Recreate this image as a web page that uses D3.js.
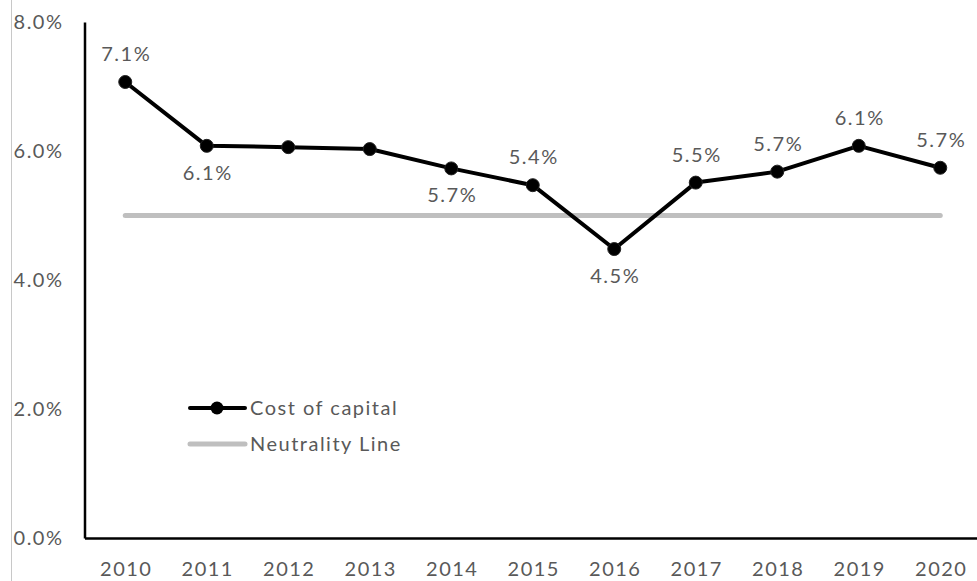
<!DOCTYPE html>
<html><head><meta charset="utf-8">
<script src="https://cdn.jsdelivr.net/npm/d3@7/dist/d3.min.js"></script>
<style>
html,body{margin:0;padding:0;background:#fff;}
svg{display:block;}
text{font-family:Lato,"Open Sans",sans-serif;}
</style></head>
<body>
<script>
const years = ["2010","2011","2012","2013","2014","2015","2016","2017","2018","2019","2020"];
const costOfCapital = [7.07, 6.08, 6.06, 6.03, 5.73, 5.47, 4.48, 5.51, 5.68, 6.08, 5.74];
const neutrality = [5.0, 5.0, 5.0, 5.0, 5.0, 5.0, 5.0, 5.0, 5.0, 5.0, 5.0];
const labelText = ["7.1%","6.1%","","","5.7%","5.4%","4.5%","5.5%","5.7%","6.1%","5.7%"];
const labelPos = ["above","below","none","none","below","above","below","above","above","above","above"];
const yTicks = [0, 2, 4, 6, 8];
const seriesNames = ["Cost of capital", "Neutrality Line"];

const W = 977, H = 581;
const FS = "20px", LS = "1.5px", TXT = "#595959";
const svg = d3.select("body").append("svg").attr("width", W).attr("height", H);

const x = d3.scaleBand().domain(years).range([84.5, 981]);
const y = d3.scaleLinear().domain([0, 8]).range([538, 22]);
const cx = d => x(d) + x.bandwidth() / 2;

// thin border line at left
svg.append("line").attr("x1", 11.5).attr("x2", 11.5).attr("y1", 0).attr("y2", H)
  .attr("stroke", "#c8c8c8").attr("stroke-width", 1);

// Y axis
const yAxis = svg.append("g").attr("transform", "translate(84.5,0)")
  .call(d3.axisLeft(y).tickValues(yTicks).tickSize(0).tickPadding(0).tickFormat(d => d.toFixed(1) + "%"));
yAxis.select(".domain").attr("stroke", "#000").attr("stroke-width", 2.5);
yAxis.selectAll("text").attr("x", -21).attr("text-anchor", "end").attr("fill", TXT)
  .style("font-size", FS).style("letter-spacing", LS).style("font-family", "Lato, sans-serif");

// X axis
const xAxis = svg.append("g").attr("transform", "translate(0,538)")
  .call(d3.axisBottom(x).tickSize(0).tickPadding(0));
xAxis.select(".domain").attr("stroke", "#000").attr("stroke-width", 2.5);
xAxis.selectAll("text").attr("y", 32).attr("dy", "0.32em").attr("dx", "1px").attr("fill", TXT)
  .style("font-size", FS).style("letter-spacing", LS).style("font-family", "Lato, sans-serif");

// neutrality line
const line = d3.line().x((d, i) => cx(years[i])).y(d => y(d));
svg.append("path").datum(neutrality).attr("d", line)
  .attr("fill", "none").attr("stroke", "#bfbfbf").attr("stroke-width", 5).attr("stroke-linecap", "round");

// cost of capital
svg.append("path").datum(costOfCapital).attr("d", line)
  .attr("fill", "none").attr("stroke", "#000").attr("stroke-width", 4).attr("stroke-linejoin", "round");
svg.selectAll("circle.pt").data(costOfCapital).enter().append("circle").attr("class", "pt")
  .attr("cx", (d, i) => cx(years[i])).attr("cy", d => y(d)).attr("r", 6.5)
  .attr("fill", "#000").attr("stroke", "#222").attr("stroke-width", 1);

// data labels
const lblData = costOfCapital.map((v, i) => ({ v, i })).filter(d => labelPos[d.i] !== "none");
svg.selectAll("text.lbl").data(lblData).enter().append("text").attr("class", "lbl")
  .attr("x", d => cx(years[d.i]) + 1)
  .attr("y", d => y(d.v) + (labelPos[d.i] === "above" ? -28 : 27))
  .attr("dy", "0.35em").attr("text-anchor", "middle").attr("fill", TXT)
  .style("font-size", FS).style("letter-spacing", LS)
  .text(d => labelText[d.i]);

// legend
const lg = svg.append("g");
lg.append("line").attr("x1", 190).attr("x2", 245).attr("y1", 408).attr("y2", 408)
  .attr("stroke", "#000").attr("stroke-width", 4).attr("stroke-linecap", "round");
lg.append("circle").attr("cx", 217).attr("cy", 408).attr("r", 6.5).attr("fill", "#000");
lg.append("text").attr("x", 250).attr("y", 408).attr("dy", "0.35em").attr("fill", TXT)
  .style("font-size", FS).style("letter-spacing", LS).text(seriesNames[0]);
lg.append("line").attr("x1", 190).attr("x2", 245).attr("y1", 444).attr("y2", 444)
  .attr("stroke", "#bfbfbf").attr("stroke-width", 5).attr("stroke-linecap", "round");
lg.append("text").attr("x", 250).attr("y", 444).attr("dy", "0.35em").attr("fill", TXT)
  .style("font-size", FS).style("letter-spacing", LS).text(seriesNames[1]);
</script>
</body></html>
